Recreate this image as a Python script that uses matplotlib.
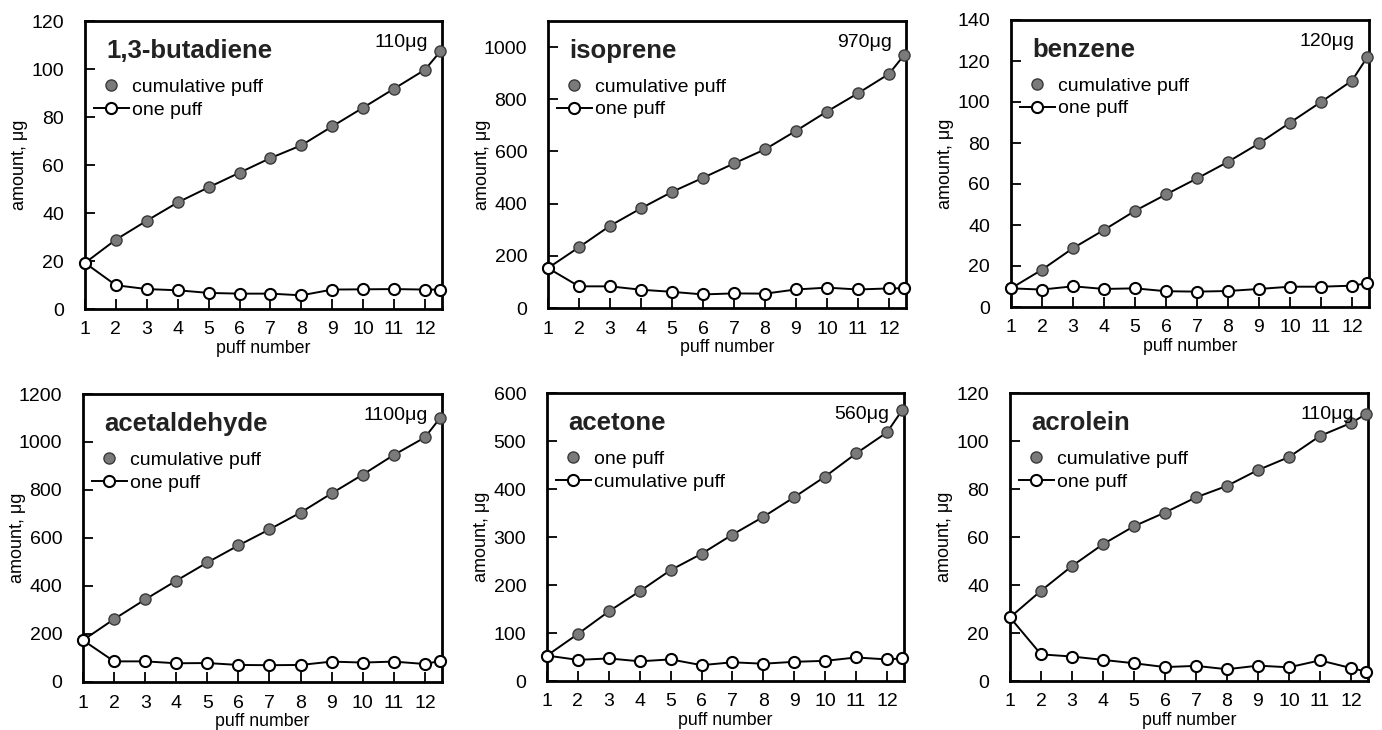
import matplotlib
matplotlib.use("Agg")
import matplotlib.pyplot as plt
from matplotlib.lines import Line2D

plt.rcParams['font.family'] = ['Liberation Sans', 'DejaVu Sans']

puff_x = [1, 2, 3, 4, 5, 6, 7, 8, 9, 10, 11, 12, 12.5]
tick_x = [1, 2, 3, 4, 5, 6, 7, 8, 9, 10, 11, 12]

names = ["1,3-butadiene", "isoprene", "benzene", "acetaldehyde", "acetone", "acrolein"]
totals = ["110μg", "970μg", "120μg", "1100μg", "560μg", "110μg"]

butadiene_cum = [19.2, 28.9, 36.8, 44.4, 50.7, 56.8, 62.9, 68.2, 76.1, 83.9, 91.8, 99.7, 107.4]
butadiene_one = [19.2, 9.9, 8.3, 7.8, 6.7, 6.4, 6.4, 5.7, 8.1, 8.2, 8.3, 8.1, 8.1]
isoprene_cum = [153, 233, 315, 382, 445, 499, 554, 608, 679, 753, 823, 897, 971]
isoprene_one = [153, 83, 83, 70, 62, 52, 56, 55, 71, 78, 71, 75, 76]
benzene_cum = [9.1, 18.2, 28.7, 37.6, 46.9, 54.9, 62.7, 70.8, 79.8, 89.9, 100.0, 110.4, 122.0]
benzene_one = [9.1, 8.5, 10.1, 8.8, 9.1, 7.7, 7.5, 7.8, 8.8, 9.9, 9.9, 10.4, 11.6]
acetaldehyde_cum = [174, 262, 344, 422, 498, 569, 636, 706, 786, 864, 946, 1019, 1102]
acetaldehyde_one = [174, 86, 86, 78, 79, 71, 70, 71, 85, 81, 85, 75, 88]
acetone_cum = [53, 98, 145, 187, 231, 265, 305, 342, 383, 426, 474, 518, 565]
acetone_one = [53, 44, 47, 41, 45, 33, 39, 36, 40, 42, 49, 45, 47]
acrolein_cum = [26.5, 37.6, 47.9, 57.0, 64.5, 70.2, 76.5, 81.3, 87.9, 93.3, 102.1, 107.5, 111.3]
acrolein_one = [26.5, 11.1, 10.2, 8.8, 7.4, 5.8, 6.3, 4.9, 6.4, 5.7, 8.6, 5.4, 3.9]

cum_series = [butadiene_cum, isoprene_cum, benzene_cum, acetaldehyde_cum, acetone_cum, acrolein_cum]
one_series = [butadiene_one, isoprene_one, benzene_one, acetaldehyde_one, acetone_one, acrolein_one]

y_max = [120, 1100, 140, 1200, 600, 120]
y_step = [20, 200, 20, 200, 100, 20]
y_tick_top = [120, 1000, 140, 1200, 600, 120]

filled_labels = ["cumulative puff", "cumulative puff", "cumulative puff", "cumulative puff", "one puff", "cumulative puff"]
open_labels = ["one puff", "one puff", "one puff", "one puff", "cumulative puff", "one puff"]

# axes rectangles in pixels: left, top, right, bottom
rects = [(85, 21, 442, 309), (548, 21, 906, 308), (1011, 20, 1369, 307),
         (83, 394, 442, 682), (547, 393, 904, 681), (1010, 393, 1368, 681)]

W, H = 1382, 730
fig = plt.figure(figsize=(W / 100, H / 100), dpi=100)

for i in range(6):
    l, t, r, b = rects[i]
    ax = fig.add_axes([l / W, 1 - b / H, (r - l) / W, (b - t) / H])
    ax.plot(puff_x, cum_series[i], color='black', lw=1.4, zorder=2)
    ax.plot(puff_x, cum_series[i], ls='none', marker='o', ms=8, mfc='#7a7a7a',
            mec='#3a3a3a', mew=1.0, clip_on=False, zorder=3)
    ax.plot(puff_x, one_series[i], color='black', lw=1.4, marker='o', ms=8,
            mfc='white', mec='black', mew=1.5, clip_on=False, zorder=4)
    ax.set_xlim(1, 12.55)
    ax.set_ylim(0, y_max[i])
    ax.set_xticks(tick_x)
    ax.set_yticks(list(range(0, y_tick_top[i] + 1, y_step[i])))
    ax.tick_params(direction='in', length=7, width=1.3, labelsize=14, colors='black')
    ax.tick_params(axis='y', pad=15)
    ax.tick_params(axis='x', pad=9)
    for s in ax.spines.values():
        s.set_linewidth(2.0)
    ax.set_ylabel("amount, μg", fontsize=13)
    ax.yaxis.set_label_coords(-0.16, 0.5)
    ax.set_xlabel("puff number", fontsize=12.8)
    ax.xaxis.set_label_coords(0.5, -0.108)
    ax.text(0.06, 0.895, names[i], transform=ax.transAxes, fontsize=18.5,
            fontweight='bold', ha='left', va='center', color='#222222')
    ax.text(0.96, 0.925, totals[i], transform=ax.transAxes, fontsize=14,
            ha='right', va='center')
    h1 = Line2D([], [], ls='none', marker='o', ms=8, mfc='#7a7a7a', mec='#3a3a3a', mew=1.0)
    h2 = Line2D([], [], color='black', lw=1.4, marker='o', ms=8, mfc='white', mec='black', mew=1.5)
    ax.legend([h1, h2], [filled_labels[i], open_labels[i]], loc='upper left',
              bbox_to_anchor=(0.025, 0.80), frameon=False, fontsize=14,
              handlelength=1.8, handletextpad=0.15, labelspacing=0.25,
              borderpad=0.0, borderaxespad=0.0)

fig.savefig("out.png", dpi=100)
